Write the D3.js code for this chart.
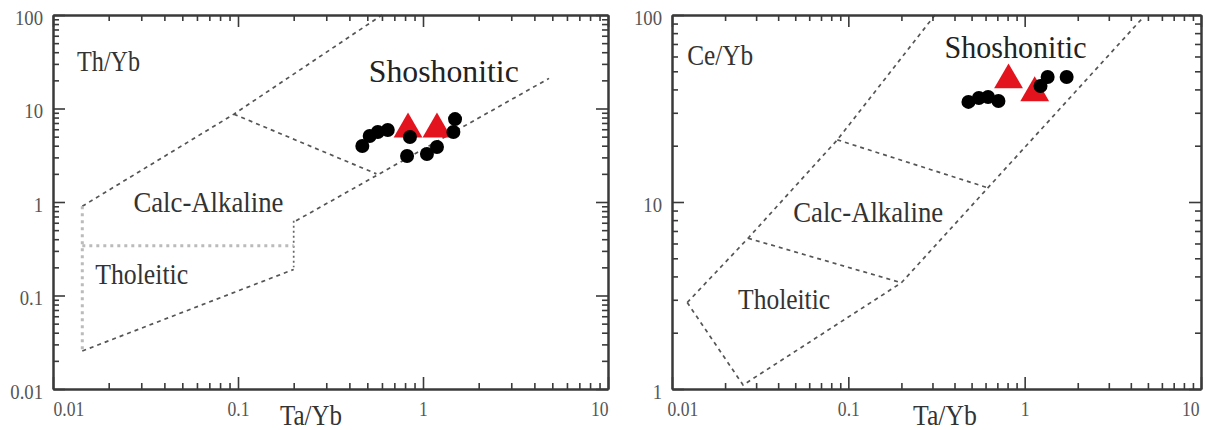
<!DOCTYPE html>
<html><head><meta charset="utf-8">
<script src="https://cdn.jsdelivr.net/npm/d3@7"></script>
<style>body{margin:0;background:#fff}svg{display:block}</style>
</head><body>
<svg id="c" width="1206" height="430"></svg>
<script>
// ---------- data ----------
const xTickValues = [0.01, 0.1, 1, 10];
const xTickLabels = ["0.01", "0.1", "1", "10"];
const thybTickValues = [0.01, 0.1, 1, 10, 100];
const thybTickLabels = ["0.01", "0.1", "1", "10", "100"];
const ceybTickValues = [1, 10, 100];
const ceybTickLabels = ["1", "10", "100"];
const xTitle = "Ta/Yb";

// Th/Yb vs Ta/Yb samples
const thybCircleTaYb = [0.47, 0.515, 0.57, 0.645, 0.85, 0.82, 1.05, 1.19, 1.49, 1.46];
const thybCircleThYb = [3.97, 5.08, 5.6, 5.9, 4.96, 3.1, 3.26, 3.88, 7.7, 5.6];
const thybTriTaYb = [0.83, 1.19];
const thybTriThYb = [6.0, 6.0];

// Ce/Yb vs Ta/Yb samples
const ceybCircleTaYb = [0.48, 0.55, 0.62, 0.71, 1.23, 1.35, 1.73];
const ceybCircleCeYb = [34.3, 36, 36.4, 34.7, 41.7, 46.6, 46.6];
const ceybTriTaYb = [0.81, 1.14];
const ceybTriCeYb = [44.9, 38.3];

// field boundaries (Ta/Yb, ratio)
const thybUpper = [[0.0144, 0.9], [0.095, 8.7], [0.6, 100]];
const thybDivider = [[0.095, 8.7], [0.56, 2.0]];
const thybShoLower = [[0.206, 0.63], [4.8, 21]];
const thybStep = [[0.2, 0.63], [0.2, 0.2]];
const thybTholTop = [[0.0144, 0.34], [0.2, 0.34]];
const thybTholLower = [[0.0144, 0.0255], [0.2, 0.19]];
const thybTholLeft = [[0.0144, 0.9], [0.0144, 0.0255]];

const ceybUpper = [[0.0122, 2.9], [0.027, 6.4], [0.0866, 21.5], [0.31, 100]];
const ceybDivider = [[0.0866, 21.5], [0.62, 11.9]];
const ceybShoLower = [[0.2, 3.7], [4.6, 95]];
const ceybTholTop = [[0.027, 6.4], [0.2, 3.7]];
const ceybTholLower = [[0.0122, 2.9], [0.0253, 1.05], [0.2, 3.7]];

// labels
const thybLabels = ["Th/Yb", "Shoshonitic", "Calc-Alkaline", "Tholeitic"];
const thybLabelAt = [[0.0135, 25.2], [0.509, 19.2], [0.0272, 0.78], [0.0169, 0.133]];
const ceybLabels = ["Ce/Yb", "Shoshonitic", "Calc-Alkaline", "Tholeitic"];
const ceybLabelAt = [[0.0122, 54], [0.351, 58.9], [0.0487, 7.8], [0.0237, 2.68]];

// ---------- drawing ----------
const svg = d3.select("#c");
const SERIF = "'Liberation Serif','Times New Roman',serif";
const lineStyles = {
  dash: {stroke: "#555", width: 1.7, dash: "4,4"},
  dot: {stroke: "#666", width: 1.7, dash: "2,3"},
  gray: {stroke: "#bbb", width: 3, dash: "3,4"}
};
const labelStyles = [
  {size: 30, color: "#333"},
  {size: 32, color: "#222"},
  {size: 30, color: "#333"},
  {size: 30, color: "#333"}
];

function condense(sel, factor) {
  sel.each(function () {
    const L = this.getComputedTextLength();
    d3.select(this).attr("textLength", L * factor).attr("lengthAdjust", "spacingAndGlyphs");
  });
}

function drawPanel(cfg) {
  const g = svg.append("g");
  const x = d3.scaleLog().domain([xTickValues[0], xTickValues[xTickValues.length - 1]]).range(cfg.xr);
  const y = d3.scaleLog().domain([cfg.yTicks[0], cfg.yTicks[cfg.yTicks.length - 1]]).range(cfg.yr);
  const line = d3.line().x(d => x(d[0])).y(d => y(d[1]));

  cfg.bounds.forEach(([pts, key]) => {
    const s = lineStyles[key];
    g.append("path").attr("d", line(pts)).attr("fill", "none")
      .attr("stroke", s.stroke).attr("stroke-width", s.width).attr("stroke-dasharray", s.dash);
  });

  const minorX = x.ticks().filter(v => !xTickValues.some(m => Math.abs(m - v) / m < 1e-6));
  const minorY = y.ticks().filter(v => !cfg.yTicks.some(m => Math.abs(m - v) / m < 1e-6));
  const axColor = "#3a3a3a";
  function ax(gen, scale, vals, size, tr, fmt, pad) {
    const a = gen(scale).tickValues(vals).tickSize(size).tickSizeOuter(0).tickPadding(pad || 3)
      .tickFormat(fmt || "");
    const ag = g.append("g").attr("transform", tr).call(a);
    ag.selectAll("line").attr("stroke", axColor).attr("stroke-width", 1.6);
    ag.select(".domain").attr("stroke", axColor).attr("stroke-width", 2);
    ag.selectAll("text").attr("font-family", SERIF).attr("font-size", 22).attr("fill", "#555");
    return ag;
  }
  const [x0, x1] = cfg.xr, [yb, yt] = cfg.yr;
  ax(d3.axisBottom, x, minorX, -6, `translate(0,${yb})`);
  const bx = ax(d3.axisBottom, x, xTickValues, -12, `translate(0,${yb})`, (d, i) => xTickLabels[i], 11);
  ax(d3.axisTop, x, minorX, -6, `translate(0,${yt})`);
  ax(d3.axisTop, x, xTickValues, -12, `translate(0,${yt})`);
  ax(d3.axisLeft, y, minorY, -6, `translate(${x0},0)`);
  const ly = ax(d3.axisLeft, y, cfg.yTicks, -12, `translate(${x0},0)`, (d, i) => cfg.yLabels[i], 10);
  ax(d3.axisRight, y, minorY, -6, `translate(${x1},0)`);
  ax(d3.axisRight, y, cfg.yTicks, -12, `translate(${x1},0)`);

  const bt = bx.selectAll("text");
  bt.filter((d, i) => i === 0).attr("text-anchor", "start").attr("dx", cfg.firstDx);
  bt.filter((d, i) => i === xTickValues.length - 1).attr("text-anchor", "end").attr("dx", cfg.lastDx);
  condense(bt, 0.8);
  ly.selectAll("text").attr("dy", "0.42em");
  condense(ly.selectAll("text"), 0.85);

  const tt = g.append("text").attr("x", cfg.titleX).attr("y", 425).attr("text-anchor", "middle")
    .attr("font-family", SERIF).attr("font-size", 30).attr("fill", "#333").text(xTitle);
  tt.attr("textLength", cfg.titleW).attr("lengthAdjust", "spacingAndGlyphs");

  cfg.labels.forEach((t, i) => {
    const st = labelStyles[i];
    g.append("text").attr("x", x(cfg.labelAt[i][0])).attr("y", y(cfg.labelAt[i][1]))
      .attr("font-family", SERIF).attr("font-size", st.size).attr("fill", st.color)
      .attr("textLength", cfg.labelW[i]).attr("lengthAdjust", "spacingAndGlyphs").text(t);
  });

  const tri = d3.symbol(d3.symbolTriangle, 360);
  cfg.triX.forEach((v, i) => {
    g.append("path").attr("d", tri()).attr("transform", `translate(${x(v)},${y(cfg.triY[i])})`)
      .attr("fill", "#e3141d");
  });
  cfg.cirX.forEach((v, i) => {
    g.append("circle").attr("cx", x(v)).attr("cy", y(cfg.cirY[i])).attr("r", 7).attr("fill", "#000");
  });
}

drawPanel({
  xr: [53, 608], yr: [389, 15],
  yTicks: thybTickValues, yLabels: thybTickLabels,
  bounds: [[thybUpper, "dash"], [thybDivider, "dash"], [thybShoLower, "dash"], [thybStep, "dot"],
           [thybTholTop, "gray"], [thybTholLower, "dash"], [thybTholLeft, "gray"]],
  labels: thybLabels, labelAt: thybLabelAt, labelW: [63, 150, 150, 93],
  triX: thybTriTaYb, triY: thybTriThYb, cirX: thybCircleTaYb, cirY: thybCircleThYb,
  titleX: 311, titleW: 62, firstDx: 0, lastDx: 0
});
drawPanel({
  xr: [672, 1201], yr: [389, 15],
  yTicks: ceybTickValues, yLabels: ceybTickLabels,
  bounds: [[ceybUpper, "dash"], [ceybDivider, "dash"], [ceybShoLower, "dash"],
           [ceybTholTop, "dash"], [ceybTholLower, "dash"]],
  labels: ceybLabels, labelAt: ceybLabelAt, labelW: [66, 142, 150, 92],
  triX: ceybTriTaYb, triY: ceybTriCeYb, cirX: ceybCircleTaYb, cirY: ceybCircleCeYb,
  titleX: 945, titleW: 64, firstDx: -5, lastDx: -2
});
</script>
</body></html>
